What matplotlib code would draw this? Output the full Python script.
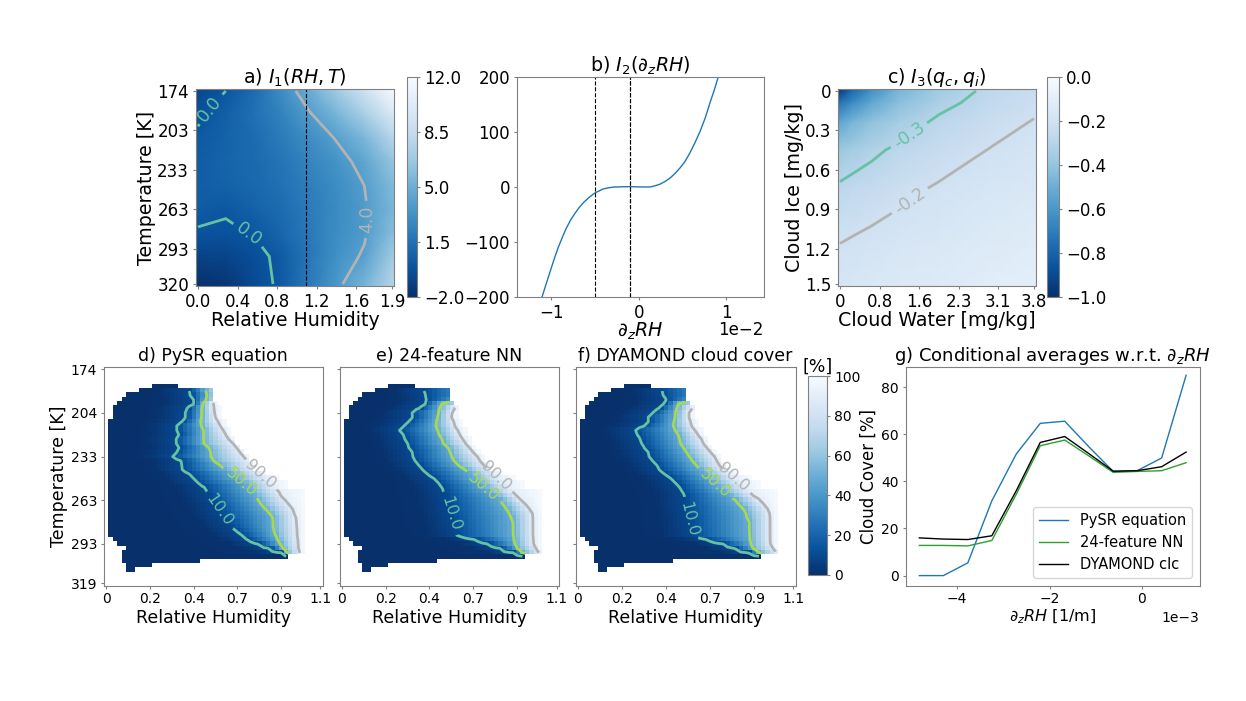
import numpy as np
import matplotlib
matplotlib.use("Agg")
import matplotlib.pyplot as plt

W, H = 1246, 701

# a) I1 values read at a few cells of the 50x50 panel
i1_rows = [0, 6, 12, 18, 24, 30, 36, 42, 49]
i1_cols = [0, 7, 14, 21, 28, 35, 42, 49]
i1_values = [
    [-0.8, 0.0, 1.2, 3.0, 4.9, 7.0, 9.3, 12.0],
    [-0.2, 0.6, 1.4, 2.4, 3.8, 5.4, 7.2, 10.0],
    [0.2, 0.7, 1.2, 2.0, 3.0, 4.1, 5.5, 8.0],
    [0.4, 0.8, 1.1, 1.7, 2.5, 3.4, 4.5, 6.5],
    [0.5, 0.7, 1.0, 1.5, 2.2, 3.0, 4.0, 5.8],
    [0.3, 0.1, 0.7, 1.2, 2.0, 2.9, 3.8, 5.6],
    [-0.1, -0.15, 0.05, 0.9, 1.9, 3.0, 3.8, 6.0],
    [-1.0, -0.9, -0.4, 0.3, 1.8, 3.2, 4.2, 7.0],
    [-2.0, -1.7, -0.6, 0.25, 1.9, 3.6, 5.4, 8.0],
]

# b) I2 curve
i2_x = [-1.107, -1.063, -1.019, -0.972, -0.924, -0.876, -0.828, -0.78, -0.733, -0.685, -0.637,
        -0.57, -0.504, -0.408, -0.35, -0.294, -0.2, -0.103, 0, 0.126, 0.18, 0.24, 0.3, 0.355,
        0.41, 0.47, 0.53, 0.584, 0.64, 0.7, 0.76, 0.813, 0.86, 0.908]
i2_y = [-200, -178, -156, -133, -111, -92, -74.5, -60, -48.5, -38, -29,
        -19, -11, -3.6, -1.5, -0.2, 0.4, 0.6, 0.2, 0, 2, 5, 10, 16,
        24, 34.5, 47, 62, 80, 101, 126, 153, 175, 200]

# c) I3 values
i3_rows = [0, 3, 8, 15, 25, 37, 49]
i3_cols = [0, 3, 8, 15, 25, 37, 49]
i3_values = [
    [-1.0, -0.8, -0.64, -0.47, -0.37, -0.28, -0.235],
    [-0.75, -0.65, -0.53, -0.42, -0.33, -0.265, -0.22],
    [-0.54, -0.47, -0.41, -0.35, -0.28, -0.235, -0.195],
    [-0.38, -0.355, -0.32, -0.28, -0.24, -0.2, -0.175],
    [-0.28, -0.265, -0.25, -0.22, -0.19, -0.167, -0.147],
    [-0.205, -0.2, -0.185, -0.17, -0.155, -0.135, -0.12],
    [-0.17, -0.16, -0.15, -0.14, -0.13, -0.11, -0.1],
]

# d-f) data region, first and last+1 filled cell for rows 4 to 46
first_cell = [11, 8, 5, 4, 3, 2, 2, 2] + [1] * 27 + [2, 3, 5, 4, 4, 4, 5, 5]
end_cell = [17, 25, 25, 25, 26, 27, 27, 27, 28, 28, 29, 29, 30, 30, 31, 32, 33, 33, 34, 34,
            37, 40, 42, 42] + [46] * 15 + [42, 22, 11, 7]

# d-f) cell where cloud cover crosses 10, 50 and 90 %, for rows 5 to 42
pysr_10 = [19.3, 19.7, 20.0, 20.0, 18.9, 18.5, 18.5, 17.8, 16.5, 16.5, 16.9, 16.1, 16.2, 16.9, 16.4,
           15.5, 17.4, 17.6, 17.7, 19.1, 20.0, 21.0, 22.7, 23.1, 23.9, 24.5, 25.4, 25.8, 26.5, 27.1,
           28.0, 28.8, 29.9, 31.1, 32.6, 34.9, 37.5, 40.2]
pysr_50 = [22.7, 23.1, 22.7, 22.1, 21.9, 21.9, 21.8, 21.6, 21.8, 22.3, 22.3, 22.3, 22.3, 23.5, 23.9,
           24.0, 24.6, 26.1, 27.1, 28.8, 29.9, 31.5, 32.6, 33.4, 34.1, 34.9, 35.6, 36.6, 37.5, 38.2,
           38.3, 38.3, 38.5, 38.8, 39.3, 39.8, 40.4, 41.2]
pysr_90 = [27, 27, 27, 24.4, 24.4, 24.6, 25.0, 25.4, 26.1, 26.7, 27.4, 28.0, 29.0, 29.9, 30.7,
           31.6, 32.4, 33.4, 34.1, 35.3, 36.6, 37.5, 38.3, 39.2, 40.0, 41.0, 41.7, 42.5, 43.0, 43.3,
           43.4, 43.5, 43.6, 43.6, 43.8, 43.9, 44.0, 44.2]

nn_10 = [18.9, 19.2, 19.6, 19.1, 17.9, 16.2, 16.4, 15.6, 14.5, 13.4, 14.1, 14.7, 15.0, 15.6, 16.2,
         16.5, 16.9, 17.8, 18.7, 19.8, 21.0, 22.0, 22.9, 23.4, 23.8, 24.2, 24.5, 24.6, 24.9, 25.2,
         25.5, 25.8, 26.1, 26.4, 30.5, 33.5, 36.2, 39.1]
nn_50 = [30, 30, 27, 22.6, 22.3, 22.1, 21.9, 21.7, 21.6, 21.9, 22.3, 22.9, 23.2, 24.4, 24.8,
         25.1, 25.7, 26.7, 28.2, 29.3, 30.1, 31.2, 32.4, 33.5, 35.0, 36.2, 36.9, 37.7, 38.3, 38.8,
         39.0, 39.1, 39.1, 39.2, 39.4, 39.6, 40.0, 41.1]
nn_90 = [35, 35, 35, 30, 25.7, 25.1, 25.0, 25.3, 25.7, 26.3, 26.9, 27.4, 28.2, 29.1, 29.9,
         30.9, 31.6, 32.5, 33.5, 34.7, 35.6, 36.6, 37.7, 38.6, 39.6, 40.7, 41.9, 42.6, 43.3, 43.4,
         43.4, 43.4, 43.4, 43.4, 43.5, 43.6, 44.2, 44.9]

clc_10 = [19.4, 19.7, 20.3, 19.9, 18.8, 17.2, 16.1, 16.3, 15.3, 13.4, 13.8, 14.4, 14.8, 15.3, 16.1,
          16.5, 17.1, 18.0, 18.8, 19.9, 21.4, 22.4, 23.3, 23.9, 24.5, 24.6, 24.8, 25.0, 25.2, 25.5,
          25.6, 25.8, 26.0, 26.2, 29.4, 33.2, 35.9, 38.9]
clc_50 = [30, 30, 27, 22.7, 22.5, 22.3, 22.2, 21.9, 21.8, 22.3, 22.9, 23.2, 23.5, 24.1, 24.8,
          25.5, 26.1, 27.0, 27.9, 29.0, 30.0, 31.1, 32.2, 33.4, 34.7, 35.9, 36.8, 37.8, 38.4, 38.7,
          39.0, 39.0, 39.1, 39.2, 39.3, 39.5, 39.8, 41.2]
clc_90 = [35, 35, 35, 30, 26.0, 25.2, 25.2, 25.4, 25.8, 26.5, 27.3, 28.1, 28.6, 29.4, 30.2,
          31.1, 31.7, 32.2, 33.2, 34.3, 35.5, 36.6, 37.8, 38.7, 39.9, 41.2, 42.2, 43.1, 43.5, 43.6,
          43.6, 43.6, 43.6, 43.6, 43.6, 43.7, 44.4, 45.2]

# g) conditional averages
dzrh = [-4.82, -4.3, -3.77, -3.25, -2.72, -2.2, -1.67, -1.15, -0.62, -0.1, 0.43, 0.96]
pysr_avg = [0, 0, 5.4, 31.7, 51.6, 64.6, 65.5, 54.7, 44.2, 44.5, 49.9, 85]
nn_avg = [12.8, 12.8, 12.6, 14.9, 34.5, 55.1, 57.5, 50.8, 43.8, 44.2, 44.5, 47.9]
clc_avg = [16, 15.5, 15.3, 16.9, 36, 56.5, 59, 51.8, 44.3, 44.5, 46.2, 52.4]

temps_a = ["174", "203", "233", "263", "293", "320"]
rh_a = ["0.0", "0.4", "0.8", "1.2", "1.6", "1.9"]
water_c = ["0", "0.8", "1.6", "2.3", "3.1", "3.8"]
ice_c = ["0", "0.3", "0.6", "0.9", "1.2", "1.5"]
temps_d = ["174", "204", "233", "263", "293", "319"]
rh_d = ["0", "0.2", "0.4", "0.7", "0.9", "1.1"]
cbar_a_ticks = [-2, 1.5, 5, 8.5, 12]
cbar_a_labels = ["\u22122.0", "1.5", "5.0", "8.5", "12.0"]
cbar_c_ticks = [-1, -0.8, -0.6, -0.4, -0.2, 0]
cbar_c_labels = ["\u22121.0", "\u22120.8", "\u22120.6", "\u22120.4", "\u22120.2", "0.0"]

GRAY = "#808080"
GREEN, LIME, SILVER = "#66c2a5", "#a6d854", "#b3b3b3"
TICK_POS = [0, 10, 20, 30, 40, 49]


def px_axes(left, top, right, bottom):
    ax = fig.add_axes([left / W, 1 - bottom / H, (right - left) / W, (bottom - top) / H])
    for s in ax.spines.values():
        s.set_color(GRAY)
    ax.tick_params(color=GRAY, length=2.5)
    return ax


def mesh_coords(idx):
    # outer anchors sit on the panel edge so the colours fill the axes
    m = np.array(idx, dtype=float)
    m[0] -= 0.5
    m[-1] += 0.5
    return m


def field_panel(ax, cols, rows, values, vmin, vmax, levels, colors, spots):
    z = np.array(values)
    m = ax.pcolormesh(mesh_coords(cols), mesh_coords(rows), z, cmap="Blues_r",
                      vmin=vmin, vmax=vmax, shading="gouraud")
    ax.set_xlim(-0.5, 49.5)
    ax.set_ylim(49.5, -0.5)
    cs = ax.contour(cols, rows, z, levels=levels, colors=colors, linewidths=2)
    ax.clabel(cs, fmt="%.1f", fontsize=12.5, manual=spots)
    ax.set_xticks(TICK_POS)
    ax.set_yticks(TICK_POS)
    ax.tick_params(labelsize=12, pad=2.5)
    return m


def cover_grid(x10, x50, x90):
    grid = np.ma.masked_all((50, 50))
    for i in range(43):
        r = i + 4
        a, b = first_cell[i], end_cell[i]
        cells = np.arange(a, b)
        if 5 <= r <= 42:
            j = r - 5
            xp = [a - 0.5, x10[j] - 7, x10[j], x50[j], x90[j], max(x90[j] + 1, b - 0.5)]
            grid[r, a:b] = np.interp(cells, xp, [0, 1, 10, 50, 90, 100])
        else:
            grid[r, a:b] = 0.0
    return grid


def cover_panel(ax, x10, x50, x90, title, spots):
    grid = cover_grid(x10, x50, x90)
    im = ax.imshow(grid, cmap="Blues_r", vmin=0, vmax=100, aspect="auto", interpolation="nearest")
    cs = ax.contour(np.arange(50), np.arange(50), grid, levels=[10, 50, 90],
                    colors=[GREEN, LIME, SILVER], linewidths=2)
    ax.clabel(cs, fmt="%.1f", fontsize=11.5, manual=spots)
    ax.set_xticks(TICK_POS)
    ax.set_xticklabels(rh_d)
    ax.set_yticks(TICK_POS)
    ax.tick_params(labelsize=10, pad=2.5)
    ax.set_xlabel("Relative Humidity", fontsize=12.5, labelpad=1.5)
    ax.set_title(title, fontsize=12.5, pad=4)
    return im


fig = plt.figure(figsize=(W / 100, H / 100), dpi=100)

# a)
ax_a = px_axes(196, 89, 394, 286)
m_a = field_panel(ax_a, i1_cols, i1_rows, i1_values, -2, 12, [0, 4], [GREEN, SILVER],
                  [(4.2, 5.5), (13.5, 34.7), (43, 32.6)])
ax_a.axvline(27.4, color="black", ls="--", lw=0.8)
ax_a.set_xticklabels(rh_a)
ax_a.set_yticklabels(temps_a)
ax_a.set_xlabel("Relative Humidity", fontsize=13.7, labelpad=0)
ax_a.set_ylabel("Temperature [K]", fontsize=13.7, labelpad=0.5)
ax_a.set_title("a) $I_1(RH, T)$", fontsize=13.7, pad=3)
cax_a = px_axes(407, 77, 417, 297)
cb_a = fig.colorbar(m_a, cax=cax_a, ticks=cbar_a_ticks)
cb_a.ax.set_yticklabels(cbar_a_labels)
cb_a.ax.tick_params(labelsize=12, color=GRAY, pad=2.5)
cb_a.outline.set_edgecolor(GRAY)

# b)
ax_b = px_axes(517, 77, 764, 297)
ax_b.plot(np.array(i2_x) * 1e-2, i2_y, color="tab:blue", lw=1)
ax_b.axvline(-0.005, color="black", ls="--", lw=0.8)
ax_b.axvline(-0.001, color="black", ls="--", lw=0.8)
ax_b.axvline(-0.001, color="black", ls="--", lw=0.8)
ax_b.set_xlim(-0.01393, 0.01431)
ax_b.set_ylim(-200, 200)
ax_b.set_xticks([-0.01, 0, 0.01])
ax_b.set_yticks([-200, -100, 0, 100, 200])
ax_b.ticklabel_format(axis="x", style="sci", scilimits=(0, 0))
ax_b.xaxis.OFFSETTEXTPAD = -0.5
ax_b.xaxis.get_offset_text().set_fontsize(12)
ax_b.tick_params(labelsize=12, pad=2.5)
ax_b.set_xlabel(r"$\partial_z RH$", fontsize=13.7, labelpad=-1)
ax_b.set_title(r"b) $I_2(\partial_z RH)$", fontsize=13.7, pad=1)

# c)
ax_c = px_axes(838, 89, 1036, 286)
m_c = field_panel(ax_c, i3_cols, i3_rows, i3_values, -1, 0, [-0.3, -0.2], [GREEN, SILVER],
                  [(17.4, 11.2), (17.4, 27.5)])
ax_c.set_xticklabels(water_c)
ax_c.set_yticklabels(ice_c)
ax_c.set_xlabel("Cloud Water [mg/kg]", fontsize=13.7, labelpad=0)
ax_c.set_ylabel("Cloud Ice [mg/kg]", fontsize=13.7, labelpad=0.5)
ax_c.set_title("c) $I_3(q_c, q_i)$", fontsize=13.7, pad=3)
cax_c = px_axes(1047, 77, 1059, 297)
cb_c = fig.colorbar(m_c, cax=cax_c, ticks=cbar_c_ticks)
cb_c.ax.set_yticklabels(cbar_c_labels)
cb_c.ax.tick_params(labelsize=12, color=GRAY, pad=2.5)
cb_c.outline.set_edgecolor(GRAY)

# d) e) f)
ax_d = px_axes(104, 367, 322.5, 585.5)
cover_panel(ax_d, pysr_10, pysr_50, pysr_90, "d) PySR equation",
            [(25, 33), (30.7, 26.1), (35.3, 23.5)])
ax_d.set_yticklabels(temps_d)
ax_d.set_ylabel("Temperature [K]", fontsize=12.5, labelpad=2)

ax_e = px_axes(339.5, 367, 559, 585.5)
cover_panel(ax_e, nn_10, nn_50, nn_90, "e) 24-feature NN",
            [(24.2, 33.2), (32.4, 26.9), (35, 24.6)])
ax_e.set_yticklabels([])

ax_f = px_axes(575.5, 367, 795.5, 585.5)
im_f = cover_panel(ax_f, clc_10, clc_50, clc_90, "f) DYAMOND cloud cover",
                   [(24.3, 34.4), (31.3, 26.1), (35.3, 25)])
ax_f.set_yticklabels([])

cax_f = px_axes(808, 376, 827, 575)
cb_f = fig.colorbar(im_f, cax=cax_f, ticks=[0, 20, 40, 60, 80, 100])
cb_f.ax.tick_params(labelsize=10, color=GRAY, pad=2.5)
cb_f.outline.set_edgecolor(GRAY)
cb_f.ax.set_title("[%]", fontsize=12.5, pad=3)

# g)
ax_g = px_axes(905.5, 367, 1199.5, 585.5)
dz = np.array(dzrh) * 1e-3
ax_g.plot(dz, pysr_avg, color="tab:blue", lw=1, label="PySR equation")
ax_g.plot(dz, nn_avg, color="tab:green", lw=1, label="24-feature NN")
ax_g.plot(dz, clc_avg, color="black", lw=1, label="DYAMOND clc")
ax_g.set_xlim(-0.00512, 0.00125)
ax_g.set_ylim(-4.2, 88.5)
ax_g.set_xticks([-0.004, -0.002, 0])
ax_g.set_yticks([0, 20, 40, 60, 80])
ax_g.ticklabel_format(axis="x", style="sci", scilimits=(0, 0))
ax_g.xaxis.get_offset_text().set_fontsize(10)
ax_g.tick_params(labelsize=10, pad=2.5)
ax_g.set_xlabel(r"$\partial_z RH$ [1/m]", fontsize=11.5, labelpad=1)
ax_g.set_ylabel("Cloud Cover [%]", fontsize=12, labelpad=2)
ax_g.set_title(r"g) Conditional averages w.r.t. $\partial_z RH$", fontsize=13, pad=4)
ax_g.legend(loc="lower right", fontsize=10.5)

fig.savefig("out.png", dpi=100)
